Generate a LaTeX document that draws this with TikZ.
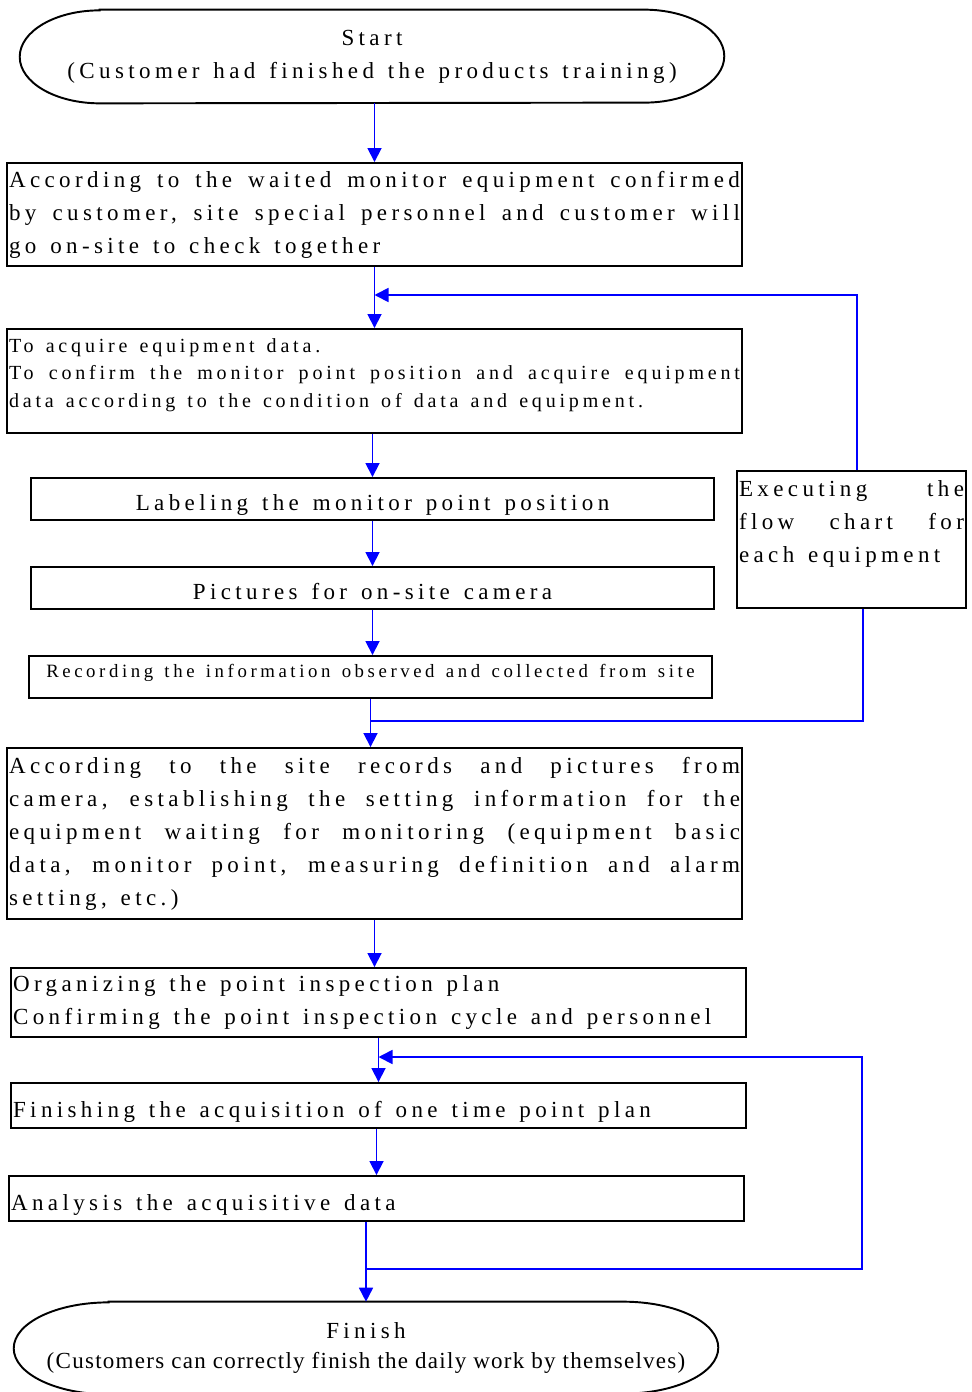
\documentclass[tikz,border=0pt]{standalone}
\usepackage{fontspec}
\setmainfont{Liberation Serif}[LetterSpace=19, WordSpace=1.37]
\newfontfamily\plainserif{Liberation Serif}[LetterSpace=5.5]
\usetikzlibrary{arrows.meta}
\hyphenpenalty=10000
\exhyphenpenalty=10000
\newcommand\bigtext{\fontsize{13.1}{18.8}\selectfont}
\newcommand\smalltext{\fontsize{11.4}{15.6}\selectfont}
\newcommand\tinytext{\fontsize{10.7}{15.6}\selectfont}
\tikzset{
  box/.style={draw, line width=1.1pt, inner xsep=0.04cm, inner ysep=0pt, font=\bigtext},
  wide/.style={box, text width=14.62cm, minimum height=#1, align=justify},
  narrow/.style={box, minimum width=13.66cm, minimum height=0.84cm},
  low/.style={text height=0.56cm, text depth=0.1cm},
  terminal/.style={inner sep=0pt, minimum width=14.08cm, minimum height=#1, align=center},
  flow/.style={draw=blue, line width=1pt, -{Triangle[length=0.28cm,width=0.28cm]}},
  link/.style={draw=blue, line width=1pt}
}
\begin{document}
\begin{tikzpicture}[x=0.02cm, y=-0.02cm]
    \useasboundingbox (0,0) rectangle (971,1392);
    % Nodes
    \node[terminal=1.86cm, font=\bigtext] (start) at (372,56.5) {Start\\(Customer had finished the products training)};
    \node[wide=2.06cm] (check) at (374.5,214.5) {According to the waited monitor equipment confirmed\linebreak by customer, site special personnel and customer will\linebreak go on-site to check together};
    \node[wide=2.08cm, font=\smalltext, text depth=1.42cm] (acquire) at (374.5,381) {To acquire equipment data.\\To confirm the monitor point position and acquire equipment\linebreak data according to the condition of data and equipment.};
    \node[narrow, low] (label) at (372.5,499) {Labeling the monitor point position};
    \node[narrow, low] (photo) at (372.5,588) {Pictures for on-site camera};
    \node[narrow, font=\tinytext, text height=0.3cm, text depth=0.28cm] (record) at (370.5,677) {Recording the information observed and collected from site};
    \node[box, text width=4.5cm, minimum height=2.74cm, align=justify, text depth=2.04cm] (exec) at (851.5,539.5) {Executing the flow chart for each equipment};
    \node[wide=3.42cm] (setting) at (374.5,833.5) {According to the site records and pictures from\linebreak camera, establishing the setting information for the\linebreak equipment waiting for monitoring (equipment basic\linebreak data, monitor point, measuring definition and alarm\linebreak setting, etc.)};
    \node[wide=1.38cm] (plan) at (378.5,1002.5) {Organizing the point inspection plan\\Confirming the point inspection cycle and personnel};
    \node[wide=0.9cm, low] (once) at (378.5,1105.5) {Finishing the acquisition of one time point plan};
    \node[wide=0.9cm, low] (analyse) at (376.5,1198.5) {Analysis the acquisitive data};
    \node[terminal=1.84cm, font={\fontsize{13.1}{17}\selectfont}] (finish) at (366,1348) {Finish\\{\plainserif (Customers can correctly finish the daily work by themselves)}};
    % Terminal outlines
    \draw[line width=1.1pt] ([xshift=1.6cm]start.north west) -- ([xshift=-1.6cm]start.north east) arc[start angle=90, end angle=-90, x radius=1.6cm, y radius=0.93cm] -- ([xshift=1.6cm]start.south west) arc[start angle=270, end angle=90, x radius=1.6cm, y radius=0.93cm] -- cycle;
    \draw[line width=1.1pt] ([xshift=1.9cm]finish.north west) -- ([xshift=-1.9cm]finish.north east) arc[start angle=90, end angle=-90, x radius=1.9cm, y radius=0.92cm] -- ([xshift=1.9cm]finish.south west) arc[start angle=270, end angle=90, x radius=1.9cm, y radius=0.92cm] -- cycle;
    % Junctions
    \coordinate (j1) at (374.5,295);
    \coordinate (j2) at (370.5,721);
    \coordinate (j3) at (378.5,1057);
    \coordinate (j4) at (366,1269);
    \coordinate (c4) at (862,1269);
    % Connection
    \draw[flow] (start.south -| check.north) -- (check.north);
    \draw[flow] (check.south) -- (acquire.north);
    \draw[flow] (acquire.south -| label.north) -- (label.north);
    \draw[flow] (label.south) -- (photo.north);
    \draw[flow] (photo.south) -- (photo.south |- record.north);
    \draw[flow] (record.south) -- (record.south |- setting.north);
    \draw[flow] (setting.south) -- (setting.south |- plan.north);
    \draw[flow] (plan.south) -- (once.north);
    \draw[flow] (once.south -| analyse.north) -- (analyse.north);
    \draw[flow] (analyse.south -| finish.north) -- (finish.north);
    % Loops
    \draw[flow] ([xshift=0.11cm]exec.north) |- (j1);
    \draw[link] (j2) -| ([xshift=0.23cm]exec.south);
    \draw[flow] (j4) -- (c4) |- (j3);
\end{tikzpicture}
\end{document}
